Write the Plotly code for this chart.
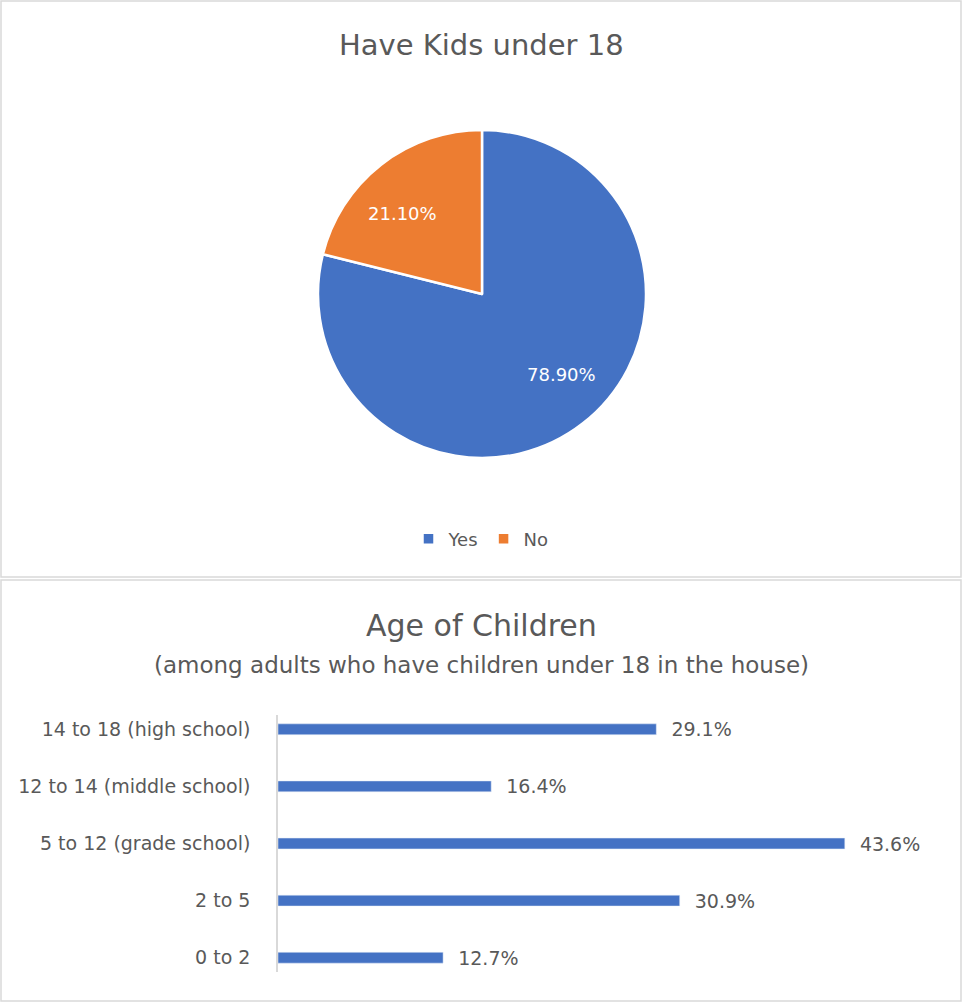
import math
import plotly.graph_objects as go

# ---- data ----
pie_labels = ["Yes", "No"]
pie_values = [78.9, 21.1]
pie_colors = ["#4472C4", "#ED7D31"]

age_groups = ["0 to 2", "2 to 5", "5 to 12 (grade school)",
              "12 to 14 (middle school)", "14 to 18 (high school)"]
age_values = [12.7, 30.9, 43.6, 16.4, 29.1]

W, H = 962, 1002
FONT = "DejaVu Sans"
GRAY = "#595959"

def px(x):
    return x / W

def py(y):
    return 1 - y / H

fig = go.Figure()

# pie: centre (482, 294), radius 164
cx, cy, r = 482, 294, 164
fig.add_trace(go.Pie(
    labels=pie_labels, values=pie_values,
    marker=dict(colors=pie_colors, line=dict(color="white", width=2.5)),
    sort=False, direction="clockwise", rotation=0,
    textinfo="none",
    hoverinfo="label+percent",
    domain=dict(x=[px(cx - r), px(cx + r)], y=[py(cy + r), py(cy - r)]),
    showlegend=True,
))

# pie value labels placed near the slice mid-angle, ~0.69 of the radius
pie_annots = []
total = sum(pie_values)
cum = 0.0
for v in pie_values:
    mid = (cum + v / 2) / total * 2 * math.pi - math.radians(7)
    cum += v
    lx = cx + 0.69 * r * math.sin(mid)
    ly = cy - 0.69 * r * math.cos(mid)
    pie_annots.append(dict(
        text=f"{v:.2f}%", x=px(lx), y=py(ly), xref="paper", yref="paper",
        showarrow=False, xanchor="center", yanchor="middle",
        font=dict(family=FONT, size=18, color="white")))

fig.add_trace(go.Bar(
    y=age_groups, x=age_values, orientation="h",
    marker=dict(color="#4472C4"), width=0.19,
    text=[f"\u00a0\u00a0{v:.1f}%" for v in age_values], textposition="outside",
    constraintext="none",
    textfont=dict(family=FONT, size=19, color=GRAY),
    cliponaxis=False, showlegend=False,
    xaxis="x", yaxis="y",
))

fig.update_layout(
    width=W, height=H,
    margin=dict(l=0, r=0, t=0, b=0),
    paper_bgcolor="white", plot_bgcolor="white",
    font=dict(family=FONT, color=GRAY),
    xaxis=dict(domain=[px(278), px(928)], range=[0, 50], visible=False,
               fixedrange=True),
    yaxis=dict(domain=[py(972), py(715)], range=[-0.25, 4.25],
               type="category", categoryorder="array", categoryarray=age_groups,
               showline=True, linecolor="#D9D9D9", linewidth=1.5,
               showgrid=False, ticks="", ticklabelstandoff=22,
               tickfont=dict(family=FONT, size=19, color=GRAY)),
    bargap=0.8,
    legend=dict(orientation="h", x=0.5, xanchor="center", y=py(539),
                yanchor="middle", font=dict(family=FONT, size=18, color=GRAY),
                itemwidth=30, traceorder="normal"),
    shapes=[
        dict(type="rect", xref="paper", yref="paper",
             x0=px(1), x1=px(961), y0=py(577), y1=py(1),
             line=dict(color="#D9D9D9", width=1.5)),
        dict(type="rect", xref="paper", yref="paper",
             x0=px(1), x1=px(961), y0=py(1001), y1=py(580),
             line=dict(color="#D9D9D9", width=1.5)),
    ],
    annotations=pie_annots + [
        dict(text="Have Kids under 18", x=0.5, y=py(45), xref="paper",
             yref="paper", showarrow=False, yanchor="middle",
             font=dict(family=FONT, size=29, color=GRAY)),
        dict(text="Age of Children", x=0.5, y=py(625), xref="paper",
             yref="paper", showarrow=False, yanchor="middle",
             font=dict(family=FONT, size=30, color=GRAY)),
        dict(text="(among adults who have children under 18 in the house)",
             x=0.5, y=py(665), xref="paper", yref="paper", showarrow=False,
             yanchor="middle", font=dict(family=FONT, size=23, color=GRAY)),
    ],
)

fig.write_html(
    "out.html",
    config={"displayModeBar": False},
    post_script="document.body.style.margin='0';document.body.style.overflow='hidden';",
)
